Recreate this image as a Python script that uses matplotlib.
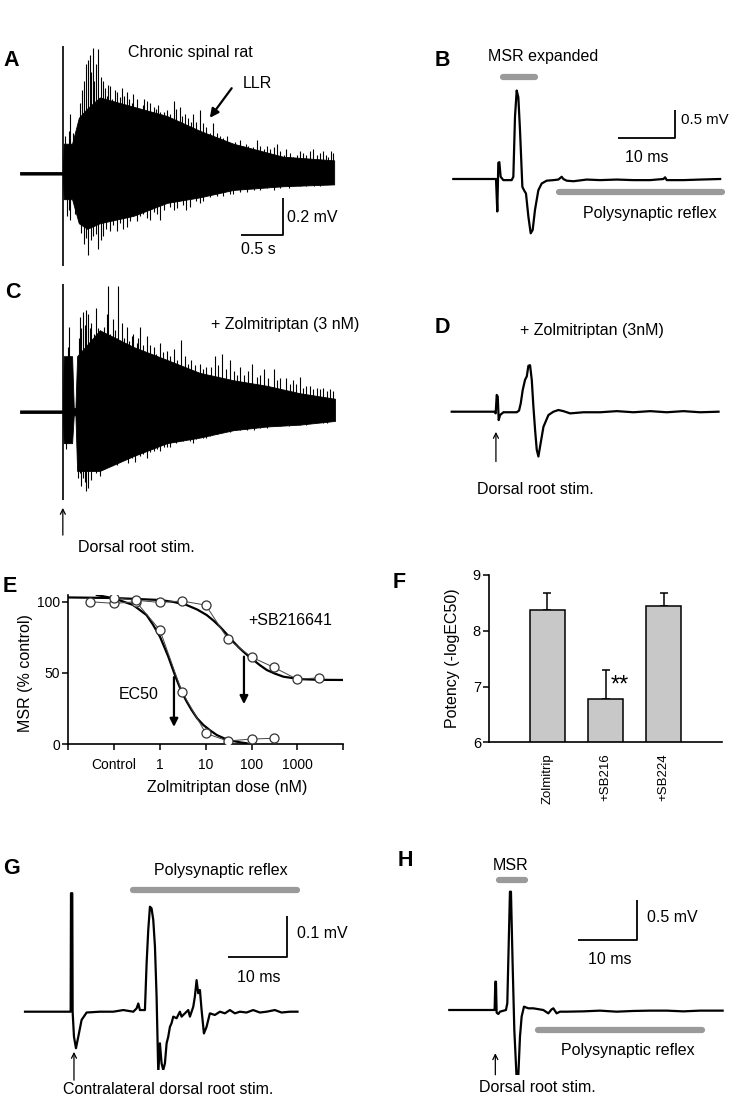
import numpy as np
import matplotlib.pyplot as plt

plt.rcParams['font.family'] = ['Liberation Sans', 'DejaVu Sans']
plt.rcParams['font.size'] = 11.5

# ---- A: chronic spinal rat, long-lasting reflex (t in s, mV) ----
a_env_t = [0, 0.51, 0.52, 0.62, 0.70, 0.80, 0.95, 1.35, 1.75, 2.14, 2.54, 3.13, 3.74]
a_env_hi = [0.007, 0.007, 0.16, 0.16, 0.30, 0.35, 0.41, 0.36, 0.31, 0.23, 0.16, 0.09, 0.07]
a_env_lo = [-0.007, -0.007, -0.14, -0.14, -0.27, -0.30, -0.27, -0.23, -0.16, -0.13, -0.09, -0.07, -0.06]
a_up_t = [0.58, 0.60, 0.67, 0.79, 0.81, 0.83, 0.87, 0.90, 0.93, 0.97, 1.01, 1.07, 1.13, 1.21,
          1.27, 1.35, 1.43, 1.51, 1.59, 1.67, 1.75, 1.83, 1.90, 1.96, 2.06, 2.14, 2.22, 2.30,
          2.38, 2.50, 2.62, 2.72, 2.82, 2.94, 3.06, 3.17, 3.25, 3.37, 3.49, 3.57, 3.67, 3.73,
          0.54, 0.63, 0.72, 0.74, 0.76, 0.85, 0.88, 0.99, 1.03, 1.05, 1.10, 1.16, 1.19, 1.24,
          1.30, 1.33, 1.39, 1.46, 1.48, 1.55, 1.62, 1.64, 1.71, 1.79, 1.86, 1.93, 2.00, 2.03,
          2.10, 2.18, 2.26, 2.34, 2.42, 2.46, 2.56, 2.66, 2.69, 2.77, 2.86, 2.90, 2.98, 3.02,
          3.10, 3.14, 3.21, 3.30, 3.33, 3.41, 3.45, 3.53, 3.61, 3.64, 3.70]
a_up_v = [0.23, 0.32, 0.21, 0.59, 0.61, 0.64, 0.68, 0.59, 0.67, 0.52, 0.46, 0.47, 0.45, 0.46,
          0.44, 0.43, 0.35, 0.39, 0.36, 0.33, 0.34, 0.39, 0.36, 0.32, 0.32, 0.34, 0.25, 0.27,
          0.20, 0.16, 0.18, 0.15, 0.18, 0.15, 0.16, 0.13, 0.09, 0.11, 0.13, 0.11, 0.09, 0.11,
          0.20, 0.22, 0.38, 0.45, 0.50, 0.55, 0.50, 0.50, 0.42, 0.48, 0.40, 0.44, 0.41, 0.42,
          0.40, 0.38, 0.40, 0.37, 0.40, 0.38, 0.35, 0.37, 0.33, 0.32, 0.35, 0.31, 0.30, 0.28,
          0.28, 0.27, 0.22, 0.22, 0.19, 0.20, 0.17, 0.15, 0.16, 0.14, 0.15, 0.13, 0.13, 0.14,
          0.12, 0.10, 0.11, 0.10, 0.12, 0.10, 0.12, 0.10, 0.12, 0.10, 0.12]
a_dn_t = [0.56, 0.60, 0.79, 0.81, 0.87, 0.93, 0.99, 1.07, 1.15, 1.27, 1.43, 1.55, 1.67, 1.83,
          1.98, 2.14, 2.30, 2.54, 2.78, 3.02, 3.33, 3.57, 3.73,
          0.58, 0.65, 0.73, 0.76, 0.84, 0.90, 0.96, 1.02, 1.11, 1.19, 1.23, 1.31, 1.39, 1.47,
          1.51, 1.59, 1.63, 1.71, 1.79, 1.87, 1.94, 2.02, 2.10, 2.18, 2.26, 2.34, 2.42, 2.50,
          2.62, 2.70, 2.86, 2.94, 3.10, 3.20, 3.40, 3.50, 3.65]
a_dn_v = [-0.23, -0.25, -0.35, -0.44, -0.34, -0.41, -0.34, -0.31, -0.31, -0.29, -0.23, -0.25,
          -0.25, -0.20, -0.20, -0.16, -0.11, -0.11, -0.09, -0.09, -0.07, -0.07, -0.05,
          -0.20, -0.22, -0.32, -0.38, -0.36, -0.33, -0.36, -0.30, -0.28, -0.27, -0.30, -0.26,
          -0.26, -0.22, -0.24, -0.21, -0.22, -0.20, -0.18, -0.19, -0.17, -0.18, -0.15, -0.15,
          -0.13, -0.12, -0.12, -0.11, -0.10, -0.10, -0.09, -0.08, -0.08, -0.08, -0.07, -0.07, -0.06]
a_stim = (0.51, -0.50, 0.69)

# ---- C: + zolmitriptan 3 nM ----
c_env_t = [0, 0.51, 0.52, 0.62, 0.64, 0.66, 0.68, 0.95, 1.35, 1.75, 2.14, 2.54, 2.94, 3.33, 3.75]
c_env_hi = [0.007, 0.007, 0.30, 0.30, 0.02, 0.02, 0.30, 0.44, 0.35, 0.28, 0.21, 0.17, 0.14, 0.10, 0.07]
c_env_lo = [-0.007, -0.007, -0.17, -0.17, -0.02, -0.02, -0.32, -0.32, -0.24, -0.17, -0.14, -0.10,
            -0.08, -0.07, -0.05]
c_up_t = [0.58, 0.60, 0.71, 0.75, 0.79, 0.81, 0.85, 0.91, 0.95, 1.03, 1.05, 1.11, 1.17, 1.21,
          1.27, 1.35, 1.43, 1.51, 1.59, 1.67, 1.75, 1.83, 1.92, 2.04, 2.14, 2.22, 2.32, 2.40,
          2.50, 2.62, 2.76, 2.90, 3.02, 3.17, 3.25, 3.33, 3.45, 3.61, 3.73,
          0.54, 0.57, 0.70, 0.73, 0.77, 0.83, 0.88, 0.93, 0.98, 1.00, 1.07, 1.13, 1.15, 1.24,
          1.30, 1.33, 1.39, 1.41, 1.47, 1.55, 1.62, 1.70, 1.79, 1.87, 1.96, 2.00, 2.08, 2.18,
          2.27, 2.36, 2.45, 2.55, 2.58, 2.67, 2.72, 2.82, 2.86, 2.95, 3.06, 3.10, 3.21, 3.29,
          3.37, 3.41, 3.49, 3.53, 3.57, 3.65, 3.69]
c_up_v = [0.46, 0.30, 0.51, 0.54, 0.55, 0.53, 0.48, 0.56, 0.44, 0.53, 0.68, 0.50, 0.68, 0.48,
          0.46, 0.42, 0.46, 0.41, 0.35, 0.37, 0.33, 0.34, 0.39, 0.28, 0.26, 0.24, 0.30, 0.31,
          0.28, 0.24, 0.26, 0.23, 0.23, 0.18, 0.17, 0.19, 0.14, 0.13, 0.11,
          0.25, 0.35, 0.40, 0.45, 0.47, 0.45, 0.42, 0.45, 0.40, 0.46, 0.42, 0.44, 0.40, 0.40,
          0.38, 0.41, 0.37, 0.40, 0.36, 0.36, 0.31, 0.32, 0.30, 0.28, 0.30, 0.26, 0.25, 0.23,
          0.24, 0.25, 0.23, 0.22, 0.20, 0.20, 0.22, 0.19, 0.20, 0.18, 0.17, 0.18, 0.15, 0.15,
          0.13, 0.14, 0.12, 0.13, 0.12, 0.11, 0.12]
c_dn_t = [0.58, 0.71, 0.77, 0.81, 0.87, 0.95, 1.09, 1.19, 1.29, 1.43, 1.59, 1.75, 1.90, 2.06,
          2.22, 2.38, 2.54, 2.78, 3.02, 3.33, 3.61,
          0.55, 0.60, 0.69, 0.73, 0.75, 0.79, 0.84, 0.91, 0.99, 1.03, 1.13, 1.16, 1.23, 1.33,
          1.37, 1.47, 1.51, 1.55, 1.63, 1.67, 1.71, 1.79, 1.86, 1.94, 2.02, 2.10, 2.18, 2.26,
          2.34, 2.42, 2.50, 2.62, 2.70, 2.86, 2.94, 3.10, 3.20, 3.40, 3.50, 3.65]
c_dn_v = [-0.17, -0.33, -0.38, -0.41, -0.32, -0.35, -0.28, -0.24, -0.28, -0.24, -0.21, -0.19,
          -0.14, -0.17, -0.14, -0.10, -0.10, -0.10, -0.08, -0.07, -0.06,
          -0.20, -0.15, -0.36, -0.40, -0.36, -0.43, -0.37, -0.33, -0.31, -0.30, -0.27, -0.29,
          -0.26, -0.25, -0.27, -0.23, -0.25, -0.22, -0.20, -0.21, -0.19, -0.19, -0.17, -0.16,
          -0.16, -0.15, -0.14, -0.13, -0.12, -0.11, -0.11, -0.10, -0.10, -0.09, -0.09, -0.08,
          -0.08, -0.07, -0.06, -0.06]
c_stim = (0.51, -0.48, 0.69)

# ---- B: MSR expanded (ms, mV) ----
b_t = [0, 7.35, 7.53, 7.76, 7.94, 8.12, 8.35, 8.82, 10.29, 10.59, 10.88, 11.18, 11.47, 11.76,
       12.18, 12.47, 12.82, 13.24, 13.65, 14.0, 14.41, 15.0, 15.59, 16.47, 17.65, 18.53, 19.12,
       19.41, 20.0, 21.18, 23.53, 25.88, 28.82, 31.76, 34.7, 37.06, 37.35, 37.65, 40.59, 43.53, 47.06]
b_v = [0, 0, 0, -0.58, 0.29, 0.30, 0.04, -0.02, -0.02, 0.04, 1.11, 1.58, 1.46, 0.88,
       -0.14, -0.20, -0.26, -0.67, -0.97, -0.91, -0.55, -0.20, -0.08, -0.03, -0.02, -0.01, 0.04,
       0, -0.03, -0.04, -0.01, -0.02, -0.01, -0.02, -0.02, 0, 0.03, -0.02, -0.02, -0.01, 0]

# ---- D: + zolmitriptan 3 nM, expanded ----
d_t = [0, 7.53, 7.76, 7.94, 8.12, 8.29, 8.53, 9.12, 11.47, 11.88, 12.18, 12.53, 12.94, 13.24,
       13.53, 13.82, 14.12, 14.41, 14.71, 15.0, 15.29, 15.59, 16.18, 17.06, 17.94, 18.82, 19.71,
       20.88, 23.24, 26.18, 29.12, 32.06, 35.0, 37.94, 40.88, 43.82, 47.06]
d_v = [0, 0, -0.03, 0.30, 0.27, -0.15, -0.06, -0.01, -0.01, 0.02, 0.15, 0.39, 0.57, 0.63,
       0.82, 0.83, 0.57, 0.09, -0.33, -0.68, -0.80, -0.62, -0.27, -0.06, 0, 0.03, 0.01,
       -0.03, -0.01, -0.01, 0.01, -0.01, 0.01, -0.01, 0.01, -0.01, 0]

# ---- E: dose response ----
e_dose1 = [0.03, 0.1, 0.3, 1, 3, 10, 30, 100, 300]
e_msr1 = [100, 98.8, 100, 80, 36.8, 7.5, 2.1, 3.5, 4]
e_dose2 = [0.1, 0.3, 1, 3, 10, 30, 100, 300, 1000, 3000]
e_msr2 = [102.8, 101, 99.5, 100.5, 97.6, 74, 61, 54, 45.4, 46.6]
e_fit1_dose = [0.042, 0.1, 0.26, 0.51, 0.7, 1, 1.25, 1.52, 2.03, 2.4, 2.96, 3.8, 4.9, 6.5, 8.9,
               12.5, 17.4, 25, 39.8, 55, 77.6]
e_fit1_msr = [104.7, 102.3, 97.7, 90.6, 84, 75.4, 68, 61.4, 50.1, 44, 36.8, 30, 23.9, 18, 13.3,
              9.5, 6.3, 4, 2.1, 1.2, 0.5]
e_fit2_dose = [0.01, 0.1, 1, 2, 3.8, 6.5, 10.5, 15, 20.4, 29, 39.8, 52, 66, 85, 110, 150, 214,
               320, 494, 1120, 3000, 10000]
e_fit2_msr = [103, 102.6, 101.2, 99.8, 97.7, 94.5, 90.6, 86.5, 82.4, 77, 71.9, 68, 64.9, 61.8,
              59.0, 55.5, 52.0, 49.5, 47.3, 45.6, 45.1, 45.0]
e_ec50 = [(2.02, 47, 12), (68, 61.4, 28)]
e_ticks = [0.01, 0.1, 1, 10, 100, 1000, 10000]
e_ticklabels = ['', 'Control', '1', '10', '100', '1000', '']

# ---- F: potency ----
f_groups = ['Zolmitrip', '+SB216', '+SB224']
f_potency = [8.37, 6.77, 8.45]
f_err = [0.30, 0.53, 0.23]

# ---- G: contralateral stim ----
g_t = [0, 4.29, 7.43, 7.83, 7.89, 8.11, 8.17, 8.4, 8.74, 9.14, 9.71, 10.57, 12.86, 15.14, 16.86,
       18.57, 19.14, 19.43, 19.71, 20.57, 20.86, 21.14, 21.43, 21.71, 22.0, 22.29, 22.57, 22.86,
       23.14, 23.43, 23.71, 24.0, 24.29, 24.57, 24.86, 25.14, 25.43, 26.0, 26.57, 26.86, 27.43,
       28.0, 28.29, 28.86, 29.14, 29.43, 29.71, 30.0, 30.29, 30.69, 31.14, 31.71, 32.57, 33.43,
       34.29, 35.14, 36.0, 36.86, 38.0, 39.14, 40.29, 41.43, 42.86, 44.0, 45.43, 46.74]
g_v = [0, 0, 0, 0, 0.289, 0.289, 0, -0.061, -0.089, -0.061, -0.020, -0.002, 0, 0, 0.004,
       0, 0.008, 0.020, 0.004, 0.004, 0.118, 0.199, 0.256, 0.252, 0.224, 0.159, 0.037, -0.150,
       -0.077, -0.126, -0.142, -0.126, -0.077, -0.061, -0.037, -0.028, -0.012, -0.016, 0, -0.012,
       -0.004, 0.004, -0.012, 0.012, 0.037, 0.077, 0.045, 0.053, 0.004, -0.053, -0.037, -0.004,
       -0.008, 0, -0.004, 0.004, -0.004, 0, -0.002, 0.004, -0.002, 0, 0.004, -0.002, 0, 0]

# ---- H: ipsilateral stim ----
h_t = [0, 7.46, 7.68, 7.8, 7.91, 8.02, 8.31, 8.59, 9.6, 9.83, 10.28, 10.45, 10.73, 11.02, 11.41,
       11.69, 11.98, 12.26, 12.66, 13.39, 14.24, 15.93, 16.78, 17.34, 17.63, 18.19, 18.76, 19.89,
       22.71, 25.54, 28.36, 31.19, 34.01, 36.84, 39.66, 42.49, 46.33]
h_v = [0, 0, 0, 0.354, 0.354, -0.033, -0.05, -0.021, 0, 0.083, 1.479, 1.479, 0.583, -0.25,
       -0.854, -0.833, -0.333, -0.083, 0.042, 0.021, 0.021, 0, -0.042, 0.008, 0.021, -0.042,
       -0.021, -0.021, -0.017, -0.008, -0.021, -0.012, -0.008, -0.008, -0.017, -0.008, -0.008]

W, H = 731, 1111
fig = plt.figure(figsize=(W / 100, H / 100), dpi=100)
GREY = '#9a9a9a'


def px_axes(left, top, right, bottom):
    return fig.add_axes([left / W, 1 - bottom / H, (right - left) / W, (bottom - top) / H])


def ftext(x, y, s, **kw):
    kw.setdefault('va', 'center')
    fig.text(x / W, 1 - y / H, s, **kw)


def trace_axes(box, t0, base, px_t, px_a):
    left, top, right, bottom = box
    ax = px_axes(*box)
    ax.set_xlim((left - t0) / px_t, (right - t0) / px_t)
    ax.set_ylim((base - bottom) / px_a, (base - top) / px_a)
    ax.axis('off')
    return ax


def scalebar(ax, t, v, dt, dv):
    ax.plot([t, t + dt, t + dt], [v, v, v + dv], color='k', lw=1.3, solid_capstyle='butt')


def bar(ax, t0, t1, v):
    ax.plot([t0, t1], [v, v], color=GREY, lw=4.5, solid_capstyle='round')


def arrow(ax, x, y0, y1, lw=0.9, ms=9, style='->'):
    ax.annotate('', xy=(x, y1), xytext=(x, y0), annotation_clip=False,
                arrowprops=dict(arrowstyle=style, color='k', lw=lw, mutation_scale=ms,
                                shrinkA=0, shrinkB=0))


def burst(ax, env_t, hi, lo, up_t, up_v, dn_t, dn_v, stim):
    ax.fill_between(env_t, lo, hi, color='k', lw=0.6, edgecolor='k')
    ax.vlines(up_t, 0, up_v, color='k', lw=0.8)
    ax.vlines(dn_t, dn_v, 0, color='k', lw=0.8)
    ax.vlines(stim[0], stim[1], stim[2], color='k', lw=1.2)


# ---- A ----
axA = trace_axes((15, 35, 345, 275), 20, 173.3, 84, 185)
burst(axA, a_env_t, a_env_hi, a_env_lo, a_up_t, a_up_v, a_dn_t, a_dn_v, a_stim)
scalebar(axA, 2.63, -0.335, 0.5, 0.2)
axA.annotate('', xy=(2.26, 0.30), xytext=(2.52, 0.46),
             arrowprops=dict(arrowstyle='-|>', color='k', lw=1.6, mutation_scale=13, shrinkA=0, shrinkB=0))
ftext(3, 61, 'A', fontsize=15.5, fontweight='bold')
ftext(190, 53, 'Chronic spinal rat', ha='center')
ftext(243, 83, 'LLR')
ftext(287, 218, '0.2 mV')
ftext(258, 250, '0.5 s', ha='center')

# ---- C ----
axC = trace_axes((15, 275, 345, 545), 20, 411.7, 84, 185)
burst(axC, c_env_t, c_env_hi, c_env_lo, c_up_t, c_up_v, c_dn_t, c_dn_v, c_stim)
arrow(axC, 0.51, -0.667, -0.52)
ftext(5, 292, 'C', fontsize=15.5, fontweight='bold')
ftext(285, 325, '+ Zolmitriptan (3 nM)', ha='center')
ftext(78, 548, 'Dorsal root stim.')

# ---- B ----
axB = trace_axes((440, 40, 728, 240), 453.3, 179, 5.67, 56)
axB.plot(b_t, b_v, color='k', lw=1.6)
bar(axB, 8.8, 14.4, 1.82)
bar(axB, 18.7, 47.4, -0.24)
scalebar(axB, 29.1, 0.73, 10, 0.5)
ftext(435, 60, 'B', fontsize=15.5, fontweight='bold')
ftext(488, 57, 'MSR expanded')
ftext(681, 120, '0.5 mV', fontsize=10.8)
ftext(647, 157, '10 ms', ha='center')
ftext(650, 213, 'Polysynaptic reflex', ha='center')

# ---- D ----
axD = trace_axes((440, 340, 728, 480), 451.7, 411.7, 5.67, 56)
axD.plot(d_t, d_v, color='k', lw=1.6)
arrow(axD, 7.8, -0.89, -0.36)
ftext(435, 327, 'D', fontsize=15.5, fontweight='bold')
ftext(592, 330, '+ Zolmitriptan (3nM)', ha='center')
ftext(477, 490, 'Dorsal root stim.')

# ---- E ----
axE = px_axes(68.3, 594.6, 343.3, 744)
axE.plot(e_fit1_dose, e_fit1_msr, color='k', lw=1.6, zorder=2)
axE.plot(e_fit2_dose, e_fit2_msr, color='k', lw=1.6, zorder=2)
axE.plot(e_dose1, e_msr1, color='#444444', lw=0.7, marker='o', ms=6.5, mfc='white', mec='#333333',
         mew=0.9, zorder=3)
axE.plot(e_dose2, e_msr2, color='#444444', lw=0.7, marker='o', ms=6.5, mfc='white', mec='#333333',
         mew=0.9, zorder=3)
for x, y0, y1 in e_ec50:
    axE.annotate('', xy=(x, y1), xytext=(x, y0),
                 arrowprops=dict(arrowstyle='-|>', color='k', lw=1.6, mutation_scale=12,
                                 shrinkA=0, shrinkB=0))
axE.set_xscale('log')
axE.set_xlim(0.01, 10000)
axE.set_ylim(0, 105)
axE.set_xticks(e_ticks)
axE.set_xticklabels(e_ticklabels, fontsize=10)
axE.minorticks_off()
axE.set_yticks([0, 50, 100])
axE.tick_params(axis='y', labelsize=10, length=4, width=1.1, pad=2)
axE.tick_params(axis='x', length=4, width=1.1, pad=6)
for s in ['top', 'right']:
    axE.spines[s].set_visible(False)
for s in ['left', 'bottom']:
    axE.spines[s].set_linewidth(1.2)
axE.set_ylabel('MSR (% control)')
axE.yaxis.set_label_coords(-0.128, 0.475)
axE.set_xlabel('Zolmitriptan dose (nM)')
axE.xaxis.set_label_coords(0.577, -0.24)
axE.text(83, 87, '+SB216641', va='center')
axE.text(0.128, 35, 'EC50', va='center')
ftext(3, 587, 'E', fontsize=15.5, fontweight='bold')

# ---- F ----
axF = px_axes(489.3, 575, 721.7, 742.3)
xs = np.arange(len(f_groups))
axF.bar(xs, f_potency, width=0.6, bottom=0, color='#c8c8c8', edgecolor='k', lw=1.1, zorder=2)
axF.errorbar(xs, f_potency, yerr=[np.zeros(len(f_err)), f_err], fmt='none', ecolor='k',
             elinewidth=1.1, capsize=3, capthick=1.1, zorder=1)
axF.set_xlim(-1, 3)
axF.set_ylim(6, 9)
axF.set_yticks([6, 7, 8, 9])
axF.set_xticks(xs)
axF.set_xticklabels(f_groups, rotation=90, fontsize=9.5)
axF.tick_params(axis='x', length=0, pad=8)
axF.tick_params(axis='y', labelsize=10.5, length=4, width=1.1, pad=2)
for s in ['top', 'right']:
    axF.spines[s].set_visible(False)
for s in ['left', 'bottom']:
    axF.spines[s].set_linewidth(1.2)
axF.set_ylabel('Potency (-logEC50)')
axF.yaxis.set_label_coords(-0.126, 0.504)
axF.text(1.25, 7.02, '**', ha='center', va='center', fontsize=17)
ftext(393, 583, 'F', fontsize=15.5, fontweight='bold')

# ---- G ----
axG = trace_axes((15, 880, 300, 1070), 25, 1011.7, 5.83, 410)
axG.plot(g_t, g_v, color='k', lw=1.6)
bar(axG, 18.6, 46.7, 0.298)
scalebar(axG, 34.86, 0.134, 10, 0.1)
arrow(axG, 8.4, -0.167, -0.098)
ftext(3, 869, 'G', fontsize=15.5, fontweight='bold')
ftext(221, 871, 'Polysynaptic reflex', ha='center')
ftext(297, 933, '0.1 mV')
ftext(259, 977, '10 ms', ha='center')
ftext(168, 1090, 'Contralateral dorsal root stim.', ha='center')

# ---- H ----
axH = trace_axes((440, 870, 728, 1075), 449.3, 1010, 5.9, 80)
axH.plot(h_t, h_v, color='k', lw=1.6)
bar(axH, 8.5, 12.8, 1.625)
bar(axH, 15.1, 42.8, -0.25)
scalebar(axH, 21.86, 0.875, 10, 0.5)
arrow(axH, 7.8, -0.81, -0.54)
ftext(398, 861, 'H', fontsize=15.5, fontweight='bold')
ftext(511, 865, 'MSR', ha='center')
ftext(647, 918, '0.5 mV')
ftext(610, 960, '10 ms', ha='center')
ftext(628, 1050, 'Polysynaptic reflex', ha='center')
ftext(537, 1088, 'Dorsal root stim.', ha='center')

fig.savefig('out.png', dpi=100)
